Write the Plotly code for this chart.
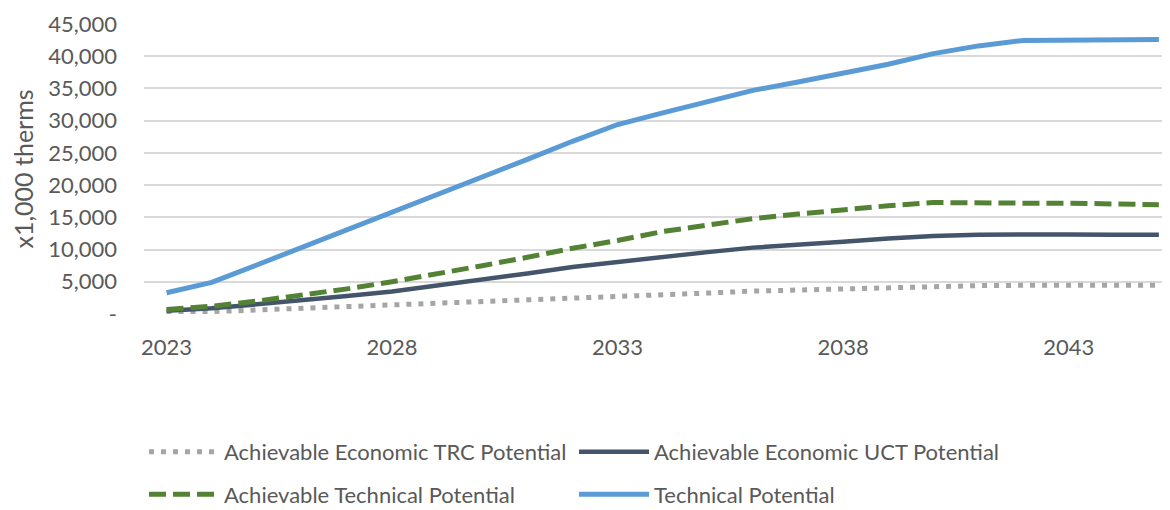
import plotly.graph_objects as go

years = list(range(2023, 2046))

trc = [100, 350, 600, 850, 1050, 1300, 1550, 1800, 2100, 2400, 2700, 3000,
       3250, 3550, 3750, 3950, 4100, 4300, 4400, 4450, 4450, 4450, 4450]
uct = [500, 900, 1500, 2100, 2800, 3500, 4400, 5300, 6300, 7300, 8100, 8900,
       9600, 10300, 10700, 11200, 11700, 12100, 12300, 12400, 12350, 12300, 12300]
ach_tech = [700, 1200, 2000, 2900, 3900, 5000, 6200, 7500, 8800, 10200, 11400, 12800,
            13800, 14800, 15500, 16200, 16800, 17300, 17200, 17200, 17200, 17100, 16950]
tech = [3300, 4900, 7600, 10300, 13000, 15900, 18600, 21300, 24000, 26800, 29400, 31200,
        33000, 34700, 36000, 37400, 38750, 40400, 41600, 42450, 42500, 42550, 42600]

# name, values, colour, width, dash, legend row
series = [
    ("Achievable Economic TRC Potential", trc, "#A5A5A5", 5, "5px,7px", "legend"),
    ("Achievable Economic UCT Potential", uct, "#44546A", 4.5, "solid", "legend"),
    ("Achievable Technical Potential", ach_tech, "#548235", 5, "17px,7px", "legend2"),
    ("Technical Potential", tech, "#5B9BD5", 5, "solid", "legend2"),
]

FONT = "Lato"
TXT = "#595959"

fig = go.Figure()
for name, vals, color, w, dash, leg in series:
    fig.add_trace(go.Scatter(
        x=years, y=vals, name=name, mode="lines",
        line=dict(color=color, width=w, dash=dash),
        legend=leg,
    ))

yticks = list(range(0, 45001, 5000))
ytext = ["-"] + [f"{v:,}" for v in yticks[1:]]

# legend rows (two separate legends to get Excel-like row spacing)
leg_common = dict(
    orientation="h", xanchor="left", yanchor="middle",
    entrywidth=345, entrywidthmode="pixels",
    itemwidth=70,
    font=dict(family=FONT, size=22, color=TXT),
    bgcolor="rgba(0,0,0,0)",
)

fig.update_layout(
    width=1170, height=510,
    margin=dict(l=136, r=2, t=16, b=198),
    paper_bgcolor="white", plot_bgcolor="white",
    font=dict(family=FONT, size=22, color=TXT),
    xaxis=dict(
        range=[2022.5, 2045.38],
        tickvals=[2023, 2028, 2033, 2038, 2043],
        showgrid=False, zeroline=False, showline=False,
        ticks="", ticklabelstandoff=18,
        tickfont=dict(family=FONT, size=22, color=TXT),
    ),
    yaxis=dict(
        range=[0, 45000],
        tickvals=yticks, ticktext=ytext,
        showgrid=True, gridcolor="#D9D9D9", gridwidth=1.5,
        zeroline=False, showline=False, ticks="",
        ticklabelstandoff=26,
        tickfont=dict(family=FONT, size=22, color=TXT),
        title=dict(text="x1,000 therms", standoff=8,
                   font=dict(family=FONT, size=25, color=TXT)),
    ),
    showlegend=True,
    legend=dict(x=0.0, y=-0.476, **leg_common),
    legend2=dict(x=0.0, y=-0.622, **leg_common),
)

fig.write_html("out.html")
